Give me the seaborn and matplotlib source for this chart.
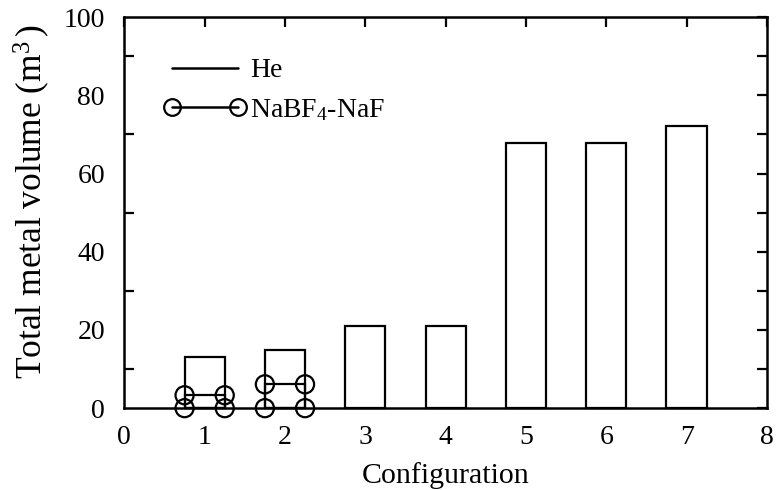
import matplotlib
matplotlib.use("Agg")
import matplotlib.pyplot as plt
import seaborn as sns
import pandas as pd
import numpy as np
from matplotlib.lines import Line2D

config_he = [1, 2, 3, 4, 5, 6, 7]
volume_he = [13.0, 14.8, 21.0, 21.1, 67.7, 67.7, 72.2]
config_salt = [1, 2]
volume_salt = [3.3, 6.1]
xticks = [0, 1, 2, 3, 4, 5, 6, 7, 8]
yticks = [0, 20, 40, 60, 80, 100]

sns.set_theme(style="white")
plt.rcParams['font.family'] = ['Liberation Serif', 'DejaVu Serif']
plt.rcParams['mathtext.fontset'] = 'custom'
plt.rcParams['mathtext.rm'] = 'Liberation Serif'
plt.rcParams['mathtext.it'] = 'Liberation Serif:italic'
for key in ['text.color', 'axes.labelcolor', 'xtick.color', 'ytick.color',
            'axes.edgecolor']:
    plt.rcParams[key] = 'black'

fig = plt.figure(figsize=(7.77, 4.9), dpi=100)
ax = fig.add_axes([0.160, 0.167, 0.827, 0.798])

bw = 0.5
df_he = pd.DataFrame({"config": config_he, "volume": volume_he})
df_salt = pd.DataFrame({"config": config_salt, "volume": volume_salt})

sns.barplot(data=df_he, x="config", y="volume", native_scale=True, width=bw,
            fill=False, color="black", linewidth=1.6, ax=ax, errorbar=None)
sns.barplot(data=df_salt, x="config", y="volume", native_scale=True, width=bw,
            fill=False, color="black", linewidth=1.6, ax=ax, errorbar=None)
for p in ax.patches:
    p.set_edgecolor("black")
    p.set_clip_on(False)

# corner markers of the NaBF4-NaF outlines
cx, cy = [], []
for c, v in zip(config_salt, volume_salt):
    for dx in (-bw / 2, bw / 2):
        for yy in (0, v):
            cx.append(c + dx)
            cy.append(yy)
sns.scatterplot(x=cx, y=cy, marker="o", s=170, facecolor="none",
                edgecolor="black", linewidth=1.6, ax=ax, clip_on=False, zorder=5)

ax.set_xlim(0, 8)
ax.set_ylim(0, 100)
ax.set_xticks(xticks)
ax.set_yticks(yticks)
ax.set_yticks(np.arange(10, 100, 20), minor=True)
ax.tick_params(which="both", direction="in", top=True, right=True, width=1.6,
               labelsize=20, colors="black")
ax.tick_params(which="major", length=7)
ax.tick_params(which="minor", length=7, left=True, right=True)
ax.tick_params(axis="x", pad=12)
ax.tick_params(axis="y", pad=14)
for s in ax.spines.values():
    s.set_linewidth(1.8)
    s.set_color("black")

ax.set_xlabel("Configuration", fontsize=21.5, labelpad=8.5, color="black")
ax.set_ylabel(r"Total metal volume (m$^{3}$$\,$)", fontsize=25.5, color="black")
ax.yaxis.set_label_coords(-0.112, 0.53)

handles = [
    Line2D([], [], color="black", lw=1.8),
    Line2D([], [], color="black", lw=1.8, marker="o", markersize=12,
           markerfacecolor="none", markeredgewidth=1.6),
]
leg = ax.legend(handles, ["He", r"NaBF$_4$-NaF"], loc="upper left",
                frameon=False, fontsize=20, numpoints=2, handlelength=2.97,
                handletextpad=0.15, labelspacing=0.49,
                bbox_to_anchor=(0.022, 0.96), labelcolor="black")

fig.savefig("out.png", dpi=100)
